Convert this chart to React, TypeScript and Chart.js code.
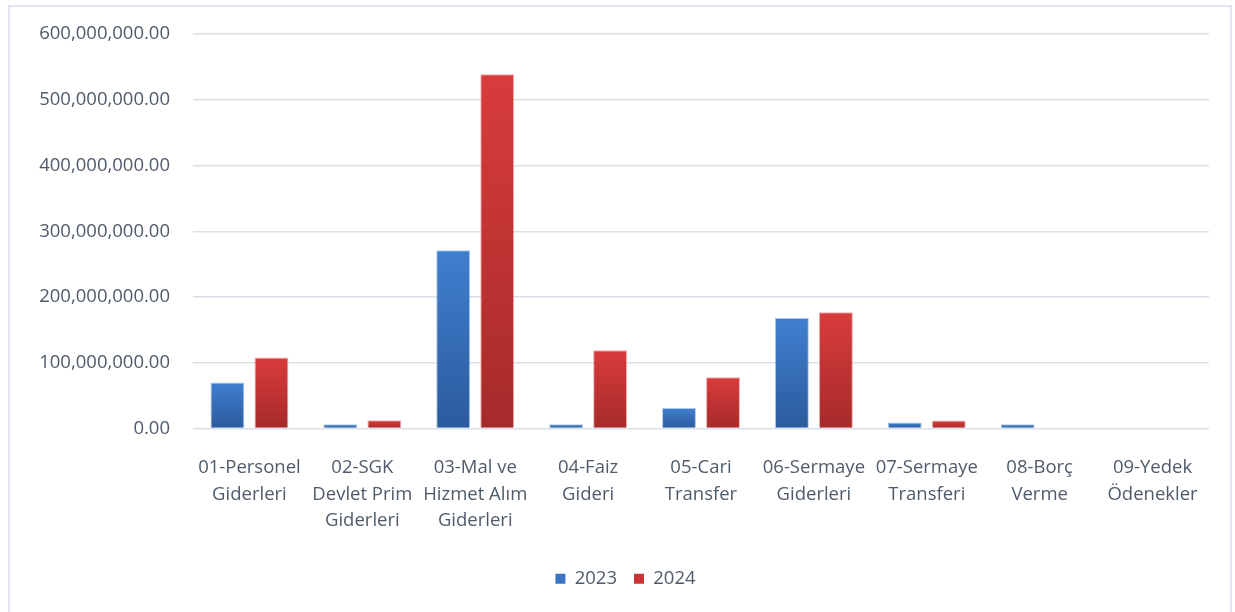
import React, { useEffect, useRef } from "react";
import { Chart, registerables } from "chart.js";

Chart.register(...registerables);

const categories: string[][] = [
  ["01-Personel", "Giderleri"],
  ["02-SGK", "Devlet Prim", "Giderleri"],
  ["03-Mal ve", "Hizmet Alım", "Giderleri"],
  ["04-Faiz", "Gideri"],
  ["05-Cari", "Transfer"],
  ["06-Sermaye", "Giderleri"],
  ["07-Sermaye", "Transferi"],
  ["08-Borç", "Verme"],
  ["09-Yedek", "Ödenekler"],
];

const values2023: number[] = [70000000, 6500000, 271000000, 6500000, 31000000, 168000000, 9000000, 6500000, 0];
const values2024: number[] = [108000000, 12500000, 539000000, 119000000, 78000000, 177000000, 12000000, 0, 0];

const seriesLabels: string[] = ["2023", "2024"];
const yTicks: number[] = [0, 100000000, 200000000, 300000000, 400000000, 500000000, 600000000];

const FONT = "'Open Sans', 'Noto Sans', sans-serif";
const TEXT = "#4f5b6b";
const FS = 18.5;

function barGradient(top: string, bottom: string) {
  return (ctx: any) => {
    const chart = ctx.chart;
    const y = chart.scales?.y;
    if (!y || ctx.type !== "data") return top;
    const v = ctx.raw as number;
    const yTop = y.getPixelForValue(v);
    const yBase = y.getPixelForValue(0);
    if (!isFinite(yTop) || !isFinite(yBase) || Math.abs(yBase - yTop) < 1) return top;
    const g = chart.ctx.createLinearGradient(0, yTop, 0, yBase);
    g.addColorStop(0, top);
    g.addColorStop(1, bottom);
    return g;
  };
}

const legendShift = {
  id: "legendShift",
  afterLayout(chart: any) {
    const lg = chart.legend;
    if (lg) {
      lg.left += 21;
      lg.right += 21;
      if (typeof lg.adjustHitBoxes === "function") lg.adjustHitBoxes();
    }
  },
};

export default function App() {
  const ref = useRef<HTMLCanvasElement | null>(null);

  useEffect(() => {
    if (!ref.current) return;
    const chart = new Chart(ref.current, {
      type: "bar",
      data: {
        labels: categories,
        datasets: [
          {
            label: seriesLabels[0],
            data: values2023,
            backgroundColor: barGradient("#3f7fcf", "#2b5b9d"),
            borderColor: "rgba(120,160,220,0.6)",
            borderWidth: 1,
            categoryPercentage: 0.78,
            barPercentage: 0.77,
          },
          {
            label: seriesLabels[1],
            data: values2024,
            backgroundColor: barGradient("#d93c3c", "#a62a2a"),
            borderColor: "rgba(230,120,120,0.6)",
            borderWidth: 1,
            categoryPercentage: 0.78,
            barPercentage: 0.77,
          },
        ],
      },
      plugins: [legendShift],
      options: {
        responsive: false,
        animation: false,
        layout: { padding: { top: 32, right: 26, bottom: 14, left: 0 } },
        plugins: {
          legend: {
            position: "bottom",
            labels: {
              boxWidth: 10,
              boxHeight: 10,
              padding: 17,
              color: TEXT,
              font: { family: FONT, size: FS },
              generateLabels: (c: any) =>
                c.data.datasets.map((ds: any, i: number) => ({
                  text: ds.label,
                  fillStyle: i === 0 ? "#3a74c2" : "#c93535",
                  strokeStyle: i === 0 ? "#3a74c2" : "#c93535",
                  lineWidth: 0,
                  fontColor: TEXT,
                  hidden: false,
                  datasetIndex: i,
                })),
            },
          },
          tooltip: { enabled: false },
        },
        scales: {
          x: {
            grid: { display: false, drawTicks: false },
            border: { display: false },
            ticks: {
              color: TEXT,
              font: { family: FONT, size: FS, lineHeight: 1.44 },
              padding: 26,
              maxRotation: 0,
              autoSkip: false,
            },
            afterFit: (s: any) => {
              s.height = 124;
            },
          },
          y: {
            min: 0,
            max: 600000000,
            afterBuildTicks: (s: any) => {
              s.ticks = yTicks.map((v) => ({ value: v }));
            },
            grid: { color: "#d9e0ea", lineWidth: 1.5, drawTicks: false },
            border: { display: false },
            ticks: {
              color: TEXT,
              font: { family: FONT, size: FS },
              padding: 23,
              callback: (v: any) =>
                Number(v).toLocaleString("en-US", { minimumFractionDigits: 2, maximumFractionDigits: 2 }),
            },
            afterFit: (s: any) => {
              s.width = 193;
            },
          },
        },
      },
    });
    return () => chart.destroy();
  }, []);

  return (
    <div style={{ position: "fixed", left: 0, top: 0, width: 1235, height: 612, background: "#fff", overflow: "hidden" }}>
      <div
        style={{
          position: "absolute",
          left: 8,
          top: 5,
          width: 1224,
          height: 640,
          border: "2px solid #dfe6ee",
          boxSizing: "border-box",
        }}
      />
      <canvas ref={ref} width={1235} height={612} style={{ position: "absolute", left: 0, top: 0 }} />
    </div>
  );
}
